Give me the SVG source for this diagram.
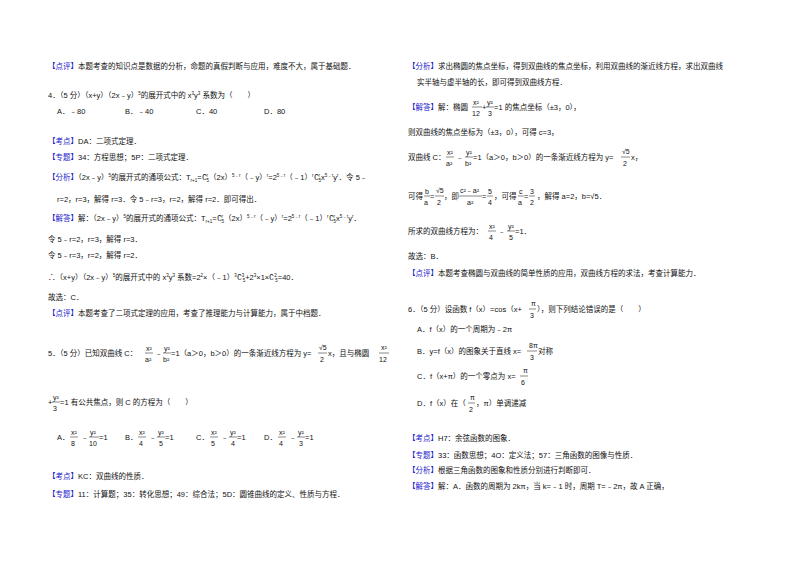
<svg xmlns="http://www.w3.org/2000/svg" width="800" height="565" viewBox="0 0 800 565">
<style>
text{font-family:"Liberation Sans","Noto Sans CJK SC",sans-serif;font-size:7.5px;fill:#111}
.b{fill:#1a1acc}
.f{font-size:7px}
.s{font-size:4.5px}
line{stroke:#111;stroke-width:0.5}
</style>
<rect width="800" height="565" fill="#fff"/>
<g id="left">
<text x="48" y="69"><tspan class="b">【点评】</tspan>本题考查的知识点是数据的分析，命题的真假判断与应用，难度不大，属于基础题．</text>
<text x="48" y="98">4．（5 分）（x+y）（2x﹣y）<tspan class="s" dy="-3">5</tspan><tspan dy="3">的展开式中的 x</tspan><tspan class="s" dy="-3">3</tspan><tspan dy="3">y</tspan><tspan class="s" dy="-3">3</tspan><tspan dy="3"> 系数为（　　）</tspan></text>
<text x="57" y="114">A．﹣80</text><text x="125" y="114">B．﹣40</text><text x="196" y="114">C．40</text><text x="264" y="114">D．80</text>
<text x="48" y="144"><tspan class="b">【考点】</tspan>DA：二项式定理．</text>
<text x="48" y="160"><tspan class="b">【专题】</tspan>34：方程思想；5P：二项式定理．</text>
<text x="48" y="180"><tspan class="b">【分析】</tspan>（2x﹣y）<tspan class="s" dy="-3">5</tspan><tspan dy="3">的展开式的通项公式：T</tspan><tspan class="s" dy="2">r+1</tspan><tspan dy="-2">=∁</tspan><tspan class="s" dy="-3">r</tspan><tspan class="s" dx="-1.5" dy="5">5</tspan><tspan dy="-2">（2x）</tspan><tspan class="s" dy="-3">5﹣r</tspan><tspan dy="3">（﹣y）</tspan><tspan class="s" dy="-3">r</tspan><tspan dy="3">=2</tspan><tspan class="s" dy="-3">5﹣r</tspan><tspan dy="3">（﹣1）</tspan><tspan class="s" dy="-3">r</tspan><tspan dy="3">∁</tspan><tspan class="s" dy="-3">r</tspan><tspan class="s" dx="-1.5" dy="5">5</tspan><tspan dy="-2">x</tspan><tspan class="s" dy="-3">5﹣r</tspan><tspan dy="3">y</tspan><tspan class="s" dy="-3">r</tspan><tspan dy="3">．令 5﹣</tspan></text>
<text x="57" y="202">r=2，r=3，解得 r=3．令 5﹣r=3，r=2，解得 r=2．即可得出．</text>
<text x="48" y="221"><tspan class="b">【解答】</tspan>解：（2x﹣y）<tspan class="s" dy="-3">5</tspan><tspan dy="3">的展开式的通项公式：T</tspan><tspan class="s" dy="2">r+1</tspan><tspan dy="-2">=∁</tspan><tspan class="s" dy="-3">r</tspan><tspan class="s" dx="-1.5" dy="5">5</tspan><tspan dy="-2">（2x）</tspan><tspan class="s" dy="-3">5﹣r</tspan><tspan dy="3">（﹣y）</tspan><tspan class="s" dy="-3">r</tspan><tspan dy="3">=2</tspan><tspan class="s" dy="-3">5﹣r</tspan><tspan dy="3">（﹣1）</tspan><tspan class="s" dy="-3">r</tspan><tspan dy="3">∁</tspan><tspan class="s" dy="-3">r</tspan><tspan class="s" dx="-1.5" dy="5">5</tspan><tspan dy="-2">x</tspan><tspan class="s" dy="-3">5﹣r</tspan><tspan dy="3">y</tspan><tspan class="s" dy="-3">r</tspan><tspan dy="3">．</tspan></text>
<text x="48" y="242">令 5﹣r=2，r=3，解得 r=3．</text>
<text x="48" y="258">令 5﹣r=3，r=2，解得 r=2．</text>
<text x="48" y="280">∴（x+y）（2x﹣y）<tspan class="s" dy="-3">5</tspan><tspan dy="3">的展开式中的 x</tspan><tspan class="s" dy="-3">3</tspan><tspan dy="3">y</tspan><tspan class="s" dy="-3">3</tspan><tspan dy="3"> 系数=2</tspan><tspan class="s" dy="-3">2</tspan><tspan dy="3">×（﹣1）</tspan><tspan class="s" dy="-3">3</tspan><tspan dy="3">∁</tspan><tspan class="s" dy="-3">3</tspan><tspan class="s" dx="-1.5" dy="5">5</tspan><tspan dy="-2">+2</tspan><tspan class="s" dy="-3">3</tspan><tspan dy="3">×1×∁</tspan><tspan class="s" dy="-3">2</tspan><tspan class="s" dx="-1.5" dy="5">5</tspan><tspan dy="-2">=40．</tspan></text>
<text x="48" y="300">故选：C．</text>
<text x="48" y="316"><tspan class="b">【点评】</tspan>本题考查了二项式定理的应用，考查了推理能力与计算能力，属于中档题．</text>
<text x="48" y="356">5．（5 分）已知双曲线 C：</text>
<text x="146" y="351" class="f">x²</text><line x1="145" y1="353" x2="153" y2="353"/><text x="145" y="362" class="f">a²</text>
<text x="155" y="356">﹣</text>
<text x="164" y="351" class="f">y²</text><line x1="163" y1="353" x2="171" y2="353"/><text x="163" y="362" class="f">b²</text>
<text x="171" y="356">=1（a＞0，b＞0）的一条渐近线方程为 y=</text>
<text x="319" y="350" class="f">√5</text><line x1="318" y1="353" x2="327" y2="353"/><text x="320" y="362" class="f">2</text>
<text x="328" y="356">x，且与椭圆</text>
<text x="381" y="350" class="f">x²</text><line x1="379" y1="353" x2="389" y2="353"/><text x="379" y="362" class="f">12</text>
<text x="48" y="405">+</text>
<text x="53" y="400" class="f">y²</text><line x1="52" y1="402" x2="60" y2="402"/><text x="53" y="411" class="f">3</text>
<text x="60" y="405">=1 有公共焦点，则 C 的方程为（　　）</text>
<g id="opts5">
<text x="57" y="440">A．</text>
<text x="71" y="435" class="f">x²</text><line x1="70" y1="437" x2="78" y2="437"/><text x="71" y="446" class="f">8</text>
<text x="81" y="440">﹣</text>
<text x="90" y="435" class="f">y²</text><line x1="89" y1="437" x2="99" y2="437"/><text x="89" y="446" class="f">10</text>
<text x="99" y="440">=1</text>
<text x="125" y="440">B．</text>
<text x="139" y="435" class="f">x²</text><line x1="138" y1="437" x2="146" y2="437"/><text x="139" y="446" class="f">4</text>
<text x="149" y="440">﹣</text>
<text x="158" y="435" class="f">y²</text><line x1="157" y1="437" x2="165" y2="437"/><text x="159" y="446" class="f">5</text>
<text x="165" y="440">=1</text>
<text x="196" y="440">C．</text>
<text x="211" y="435" class="f">x²</text><line x1="210" y1="437" x2="218" y2="437"/><text x="211" y="446" class="f">5</text>
<text x="221" y="440">﹣</text>
<text x="230" y="435" class="f">y²</text><line x1="229" y1="437" x2="237" y2="437"/><text x="231" y="446" class="f">4</text>
<text x="237" y="440">=1</text>
<text x="264" y="440">D．</text>
<text x="279" y="435" class="f">x²</text><line x1="278" y1="437" x2="286" y2="437"/><text x="279" y="446" class="f">4</text>
<text x="289" y="440">﹣</text>
<text x="298" y="435" class="f">y²</text><line x1="297" y1="437" x2="305" y2="437"/><text x="299" y="446" class="f">3</text>
<text x="305" y="440">=1</text>
</g>
<text x="48" y="479"><tspan class="b">【考点】</tspan>KC：双曲线的性质．</text>
<text x="48" y="497"><tspan class="b">【专题】</tspan>11：计算题；35：转化思想；49：综合法；5D：圆锥曲线的定义、性质与方程．</text>
</g>
<g id="right">
<text x="408" y="69"><tspan class="b">【分析】</tspan>求出椭圆的焦点坐标，得到双曲线的焦点坐标，利用双曲线的渐近线方程，求出双曲线</text>
<text x="417" y="85">实半轴与虚半轴的长，即可得到双曲线方程．</text>
<text x="408" y="110"><tspan class="b">【解答】</tspan>解：椭圆</text>
<text x="473" y="105" class="f">x²</text><line x1="472" y1="107" x2="482" y2="107"/><text x="472" y="116" class="f">12</text>
<text x="482" y="110">+</text>
<text x="487" y="105" class="f">y²</text><line x1="486" y1="107" x2="494" y2="107"/><text x="488" y="116" class="f">3</text>
<text x="494" y="110">=1 的焦点坐标（±3，0），</text>
<text x="408" y="135">则双曲线的焦点坐标为（±3，0），可得 c=3，</text>
<text x="408" y="160">双曲线 C：</text>
<text x="447" y="155" class="f">x²</text><line x1="446" y1="157" x2="454" y2="157"/><text x="446" y="166" class="f">a²</text>
<text x="456" y="160">﹣</text>
<text x="466" y="155" class="f">y²</text><line x1="465" y1="157" x2="473" y2="157"/><text x="465" y="166" class="f">b²</text>
<text x="473" y="160">=1（a＞0，b＞0）的一条渐近线方程为 y=</text>
<text x="622" y="154" class="f">√5</text><line x1="621" y1="157" x2="630" y2="157"/><text x="623" y="166" class="f">2</text>
<text x="631" y="160">x，</text>
<text x="408" y="199">可得</text>
<text x="425" y="194" class="f">b</text><line x1="424" y1="196" x2="430" y2="196"/><text x="424" y="205" class="f">a</text>
<text x="430" y="199">=</text>
<text x="436" y="193" class="f">√5</text><line x1="435" y1="196" x2="444" y2="196"/><text x="437" y="205" class="f">2</text>
<text x="444" y="199">，即</text>
<text x="460" y="193" class="f">c²﹣a²</text><line x1="459" y1="196" x2="482" y2="196"/><text x="467" y="205" class="f">a²</text>
<text x="482" y="199">=</text>
<text x="488" y="194" class="f">5</text><line x1="487" y1="196" x2="493" y2="196"/><text x="488" y="205" class="f">4</text>
<text x="494" y="199">，可得</text>
<text x="519" y="194" class="f">c</text><line x1="518" y1="196" x2="524" y2="196"/><text x="518" y="205" class="f">a</text>
<text x="524" y="199">=</text>
<text x="530" y="194" class="f">3</text><line x1="529" y1="196" x2="535" y2="196"/><text x="530" y="205" class="f">2</text>
<text x="537" y="199">，解得 a=2，b=√5．</text>
<text x="408" y="234">所求的双曲线方程为：</text>
<text x="489" y="229" class="f">x²</text><line x1="488" y1="231" x2="496" y2="231"/><text x="489" y="240" class="f">4</text>
<text x="498" y="234">﹣</text>
<text x="508" y="229" class="f">y²</text><line x1="507" y1="231" x2="515" y2="231"/><text x="509" y="240" class="f">5</text>
<text x="515" y="234">=1．</text>
<text x="408" y="259">故选：B．</text>
<text x="408" y="276"><tspan class="b">【点评】</tspan>本题考查椭圆与双曲线的简单性质的应用，双曲线方程的求法，考查计算能力．</text>
<text x="408" y="312">6．（5 分）设函数 f（x）=cos（x+</text>
<text x="531" y="306" class="f">π</text><line x1="529" y1="309" x2="536" y2="309"/><text x="530" y="318" class="f">3</text>
<text x="537" y="312">），则下列结论错误的是（　　）</text>
<text x="417" y="332">A．f（x）的一个周期为﹣2π</text>
<text x="417" y="354">B．y=f（x）的图象关于直线 x=</text>
<text x="529" y="348" class="f">8π</text><line x1="527" y1="351" x2="537" y2="351"/><text x="530" y="360" class="f">3</text>
<text x="538" y="354">对称</text>
<text x="417" y="379">C．f（x+π）的一个零点为 x=</text>
<text x="523" y="373" class="f">π</text><line x1="520" y1="376" x2="528" y2="376"/><text x="521" y="385" class="f">6</text>
<text x="417" y="406">D．f（x）在（</text>
<text x="470" y="400" class="f">π</text><line x1="468" y1="403" x2="475" y2="403"/><text x="469" y="412" class="f">2</text>
<text x="476" y="406">，π）单调递减</text>
<text x="408" y="441"><tspan class="b">【考点】</tspan>H7：余弦函数的图象．</text>
<text x="408" y="458"><tspan class="b">【专题】</tspan>33：函数思想；4O：定义法；57：三角函数的图像与性质．</text>
<text x="408" y="473"><tspan class="b">【分析】</tspan>根据三角函数的图象和性质分别进行判断即可．</text>
<text x="408" y="489"><tspan class="b">【解答】</tspan>解：A．函数的周期为 2kπ，当 k=﹣1 时，周期 T=﹣2π，故 A 正确，</text>
</g>
</svg>
